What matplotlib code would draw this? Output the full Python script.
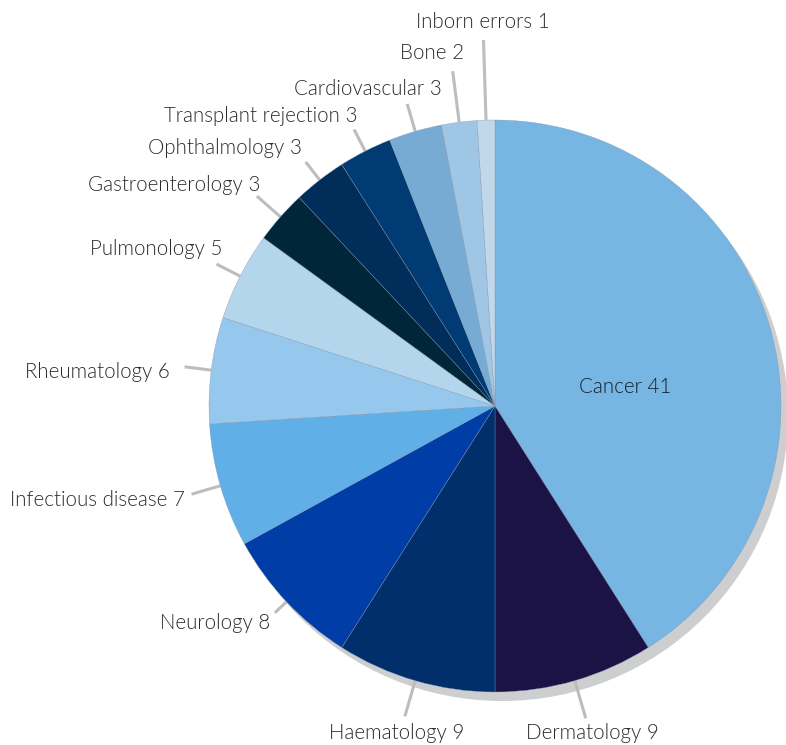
"""Pie chart of programme areas with leader-line labels and a soft drop shadow."""

import matplotlib.pyplot as plt
import numpy as np
from matplotlib.patches import Circle

categories = [
    "Cancer", "Dermatology", "Haematology", "Neurology", "Infectious disease",
    "Rheumatology", "Pulmonology", "Gastroenterology", "Ophthalmology",
    "Transplant rejection", "Cardiovascular", "Bone", "Inborn errors",
]
counts = [41, 9, 9, 8, 7, 6, 5, 3, 3, 3, 3, 2, 1]
colors = [
    "#77b5e2", "#1b1346", "#002f6c", "#003da6", "#60afe6",
    "#95c8ec", "#b4d6ec", "#00263a", "#002d5a", "#003b73",
    "#77abd3", "#9fc6e5", "#c0d8ea",
]

# label layout (pixel space): leader length as fraction of radius, text anchor, alignment
leader_r = [None, 1.137, 1.13, 1.056, 1.105, 1.094, 1.093, 1.11, 1.08, 1.085, 1.10, 1.18, 1.28]
label_xy = [
    (625, 387), (592, 733), (397, 733), (270, 623), (185, 500), (170, 372),
    (222, 249), (260, 185), (302, 148), (358, 116), (442, 89), (432, 53), (483, 22),
]
label_ha = ["center", "center", "center", "right", "right", "right",
            "right", "right", "right", "right", "right", "center", "center"]

W, H = 786, 745
CX, CY, R = 495, 406, 286

fig = plt.figure(figsize=(W / 100, H / 100), dpi=100)
ax = fig.add_axes([0, 0, 1, 1])

# shadow behind the pie
ax.add_patch(Circle((CX + 7, CY + 9), R, color="#cdcecf", zorder=0, lw=0))

# y axis is inverted, so visually clockwise from the top
wedges, _ = ax.pie(counts, colors=colors, startangle=-90, counterclock=True,
                   center=(CX, CY), radius=R,
                   wedgeprops=dict(edgecolor="#8896ad", linewidth=0.25))
for w in wedges:
    w.set_zorder(2)

font = dict(family=["Lato", "DejaVu Sans"], fontweight=300, fontsize=14.8)
for i, w in enumerate(wedges):
    mid = np.deg2rad((w.theta1 + w.theta2) / 2)
    name = f"{categories[i]} {counts[i]}"
    tx, ty = label_xy[i]
    if leader_r[i] is None:
        ax.text(tx, ty, name, ha="center", va="center", color="#15212e", zorder=3, **font)
        continue
    x0, y0 = CX + R * np.cos(mid), CY + R * np.sin(mid)
    x1, y1 = CX + R * leader_r[i] * np.cos(mid), CY + R * leader_r[i] * np.sin(mid)
    ax.plot([x0, x1], [y0, y1], color="#bdbdbd", lw=2.2, zorder=1, solid_capstyle="butt")
    ax.text(tx, ty, name, ha=label_ha[i], va="center", color="#2b2b2b", zorder=3, **font)

ax.set_xlim(0, W)
ax.set_ylim(H, 0)
ax.set_aspect("auto")
ax.axis("off")

fig.savefig("out.png", dpi=100)
